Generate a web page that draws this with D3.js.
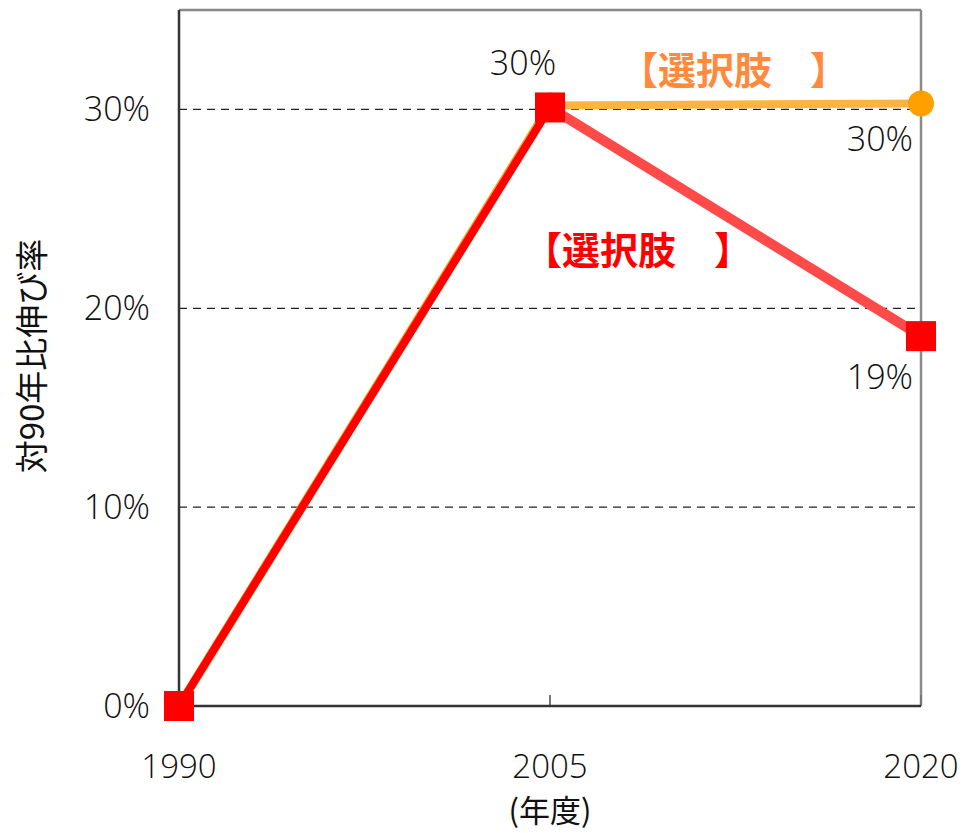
<!DOCTYPE html>
<html>
<head>
<meta charset="utf-8">
<script src="https://cdn.jsdelivr.net/npm/d3@7"></script>
<style>
  html, body { margin: 0; padding: 0; background: #fff; }
  svg { display: block; }
  .num { font-family: "Open Sans", "Noto Sans", sans-serif; font-weight: 300; }
  .jp { font-family: "Noto Sans CJK JP", sans-serif; }
</style>
</head>
<body>
<svg id="chart" width="964" height="833"></svg>
<script>
// Fiscal years on the x axis
const years = [1990, 2005, 2020];
// Growth rate relative to 1990
const orangeValues = [0, 0.302, 0.303];
const redValues = [0, 0.301, 0.186];
// Value labels shown beside the points
const orangeLabels = ["", "30%", "30%"];
const redLabels = ["", "", "19%"];
// Y axis ticks
const yTicks = [0, 0.1, 0.2, 0.3];
const yTickLabels = ["0%", "10%", "20%", "30%"];
const xTickLabels = ["1990", "2005", "2020"];

const svg = d3.select("#chart");
const plotLeft = 179, plotRight = 921, plotTop = 10, plotBottom = 706;
const numSize = 34;

const x = d3.scaleLinear().domain([1990, 2020]).range([plotLeft, plotRight]);
const y = d3.scaleLinear().domain([0, 0.35]).range([plotBottom, plotTop]);

// Dashed gridlines
svg.append("g").selectAll("line").data(yTicks.filter(d => d > 0)).join("line")
  .attr("x1", plotLeft).attr("x2", plotRight)
  .attr("y1", d => y(d)).attr("y2", d => y(d))
  .attr("stroke", "#222").attr("stroke-width", 1.2)
  .attr("stroke-dasharray", "8,6");

// Frame: top and right borders in grey
svg.append("line").attr("x1", plotLeft).attr("x2", plotRight).attr("y1", plotTop).attr("y2", plotTop)
  .attr("stroke", "#888").attr("stroke-width", 2.5);
svg.append("line").attr("x1", plotRight).attr("x2", plotRight).attr("y1", plotTop).attr("y2", plotBottom)
  .attr("stroke", "#8a8a8a").attr("stroke-width", 2.5);

// Inner tick marks on the x axis
svg.append("g").selectAll("line").data(years).join("line")
  .attr("x1", d => x(d)).attr("x2", d => x(d))
  .attr("y1", plotBottom - 11).attr("y2", plotBottom)
  .attr("stroke", "#777").attr("stroke-width", 2);

// Left and bottom axis lines
svg.append("line").attr("x1", plotLeft).attr("x2", plotLeft).attr("y1", plotTop).attr("y2", plotBottom)
  .attr("stroke", "#333").attr("stroke-width", 2.5);
svg.append("line").attr("x1", plotLeft).attr("x2", plotRight).attr("y1", plotBottom).attr("y2", plotBottom)
  .attr("stroke", "#333").attr("stroke-width", 2.5);

// Y tick labels
svg.append("g").selectAll("text").data(yTicks).join("text")
  .attr("class", "num")
  .attr("x", 150).attr("y", d => y(d) + 12)
  .attr("text-anchor", "end").attr("font-size", numSize).attr("fill", "#111")
  .text((d, i) => yTickLabels[i]);

// X tick labels
svg.append("g").selectAll("text").data(years).join("text")
  .attr("class", "num")
  .attr("x", d => x(d)).attr("y", 778)
  .attr("text-anchor", "middle").attr("font-size", 33).attr("fill", "#111")
  .text((d, i) => xTickLabels[i]);

// Axis titles
svg.append("text").attr("class", "jp")
  .attr("x", x(2005)).attr("y", 822)
  .attr("text-anchor", "middle").attr("font-size", 31).attr("fill", "#111")
  .text("(年度)");
svg.append("text").attr("class", "jp")
  .attr("transform", `translate(44, 356) rotate(-90)`)
  .attr("text-anchor", "middle").attr("font-size", 33).attr("fill", "#111")
  .text("対90年比伸び率");

const orangePts = years.map((yr, i) => [x(yr), y(orangeValues[i])]);
const redPts = years.map((yr, i) => [x(yr), y(redValues[i])]);

// Orange series: rising segment, then lighter flat segment
svg.append("line")
  .attr("x1", orangePts[0][0]).attr("y1", orangePts[0][1])
  .attr("x2", orangePts[1][0]).attr("y2", orangePts[1][1])
  .attr("stroke", "#ffa520").attr("stroke-width", 9);
svg.append("line")
  .attr("x1", orangePts[1][0]).attr("y1", orangePts[1][1])
  .attr("x2", orangePts[2][0]).attr("y2", orangePts[2][1])
  .attr("stroke", "#ffb440").attr("stroke-width", 8);
svg.append("g").selectAll("circle").data(orangePts).join("circle")
  .attr("cx", d => d[0]).attr("cy", d => d[1]).attr("r", 13)
  .attr("fill", "#ff9f00");

// Red series: rising segment, then lighter falling segment
svg.append("line")
  .attr("x1", redPts[0][0]).attr("y1", redPts[0][1])
  .attr("x2", redPts[1][0]).attr("y2", redPts[1][1])
  .attr("stroke", "#ff0000").attr("stroke-width", 8);
svg.append("line")
  .attr("x1", redPts[1][0]).attr("y1", redPts[1][1])
  .attr("x2", redPts[2][0]).attr("y2", redPts[2][1])
  .attr("stroke", "#ff4a4a").attr("stroke-width", 10);
const sq = 30;
svg.append("g").selectAll("rect").data(redPts).join("rect")
  .attr("x", d => d[0] - sq / 2).attr("y", d => d[1] - sq / 2)
  .attr("width", sq).attr("height", sq)
  .attr("fill", "#ff0000");

// Value labels
svg.append("text").attr("class", "num")
  .attr("x", x(2005) - 27).attr("y", 75)
  .attr("text-anchor", "middle").attr("font-size", numSize).attr("fill", "#111")
  .text(orangeLabels[1]);
svg.append("text").attr("class", "num")
  .attr("x", x(2020) - 8).attr("y", 151)
  .attr("text-anchor", "end").attr("font-size", numSize).attr("fill", "#111")
  .text(orangeLabels[2]);
svg.append("text").attr("class", "num")
  .attr("x", x(2020) - 8).attr("y", 389)
  .attr("text-anchor", "end").attr("font-size", numSize).attr("fill", "#111")
  .text(redLabels[2]);

// Series name labels
svg.append("text").attr("class", "jp")
  .attr("x", 620).attr("y", 84)
  .attr("font-size", 38).attr("font-weight", 700).attr("fill", "#ff8a3d")
  .text("【選択肢　】");
svg.append("text").attr("class", "jp")
  .attr("x", 524).attr("y", 264)
  .attr("font-size", 38).attr("font-weight", 700).attr("fill", "#ff0000")
  .text("【選択肢　】");
</script>
</body>
</html>
